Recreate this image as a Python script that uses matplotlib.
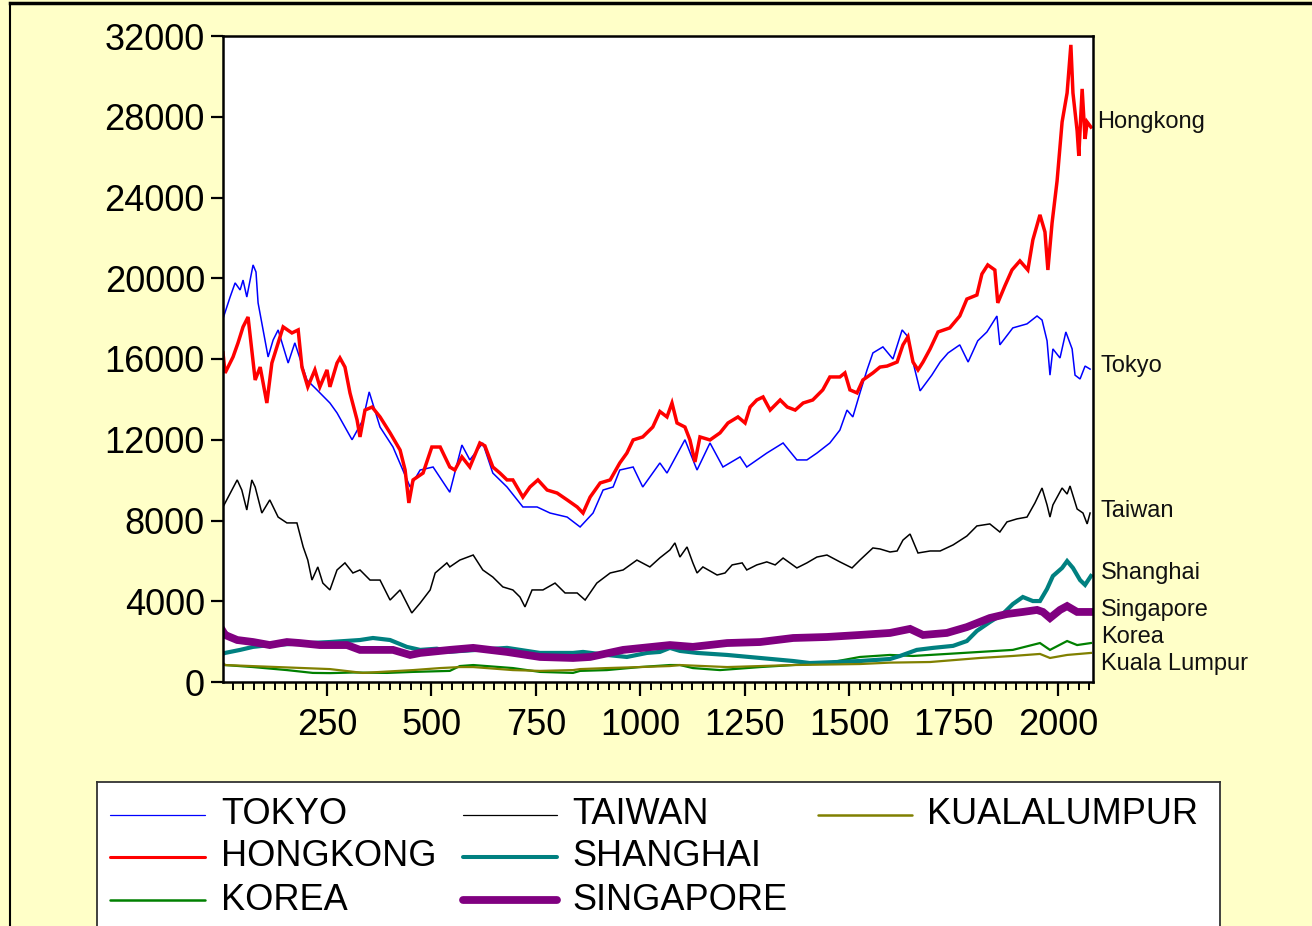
import numpy as np
import matplotlib
matplotlib.use("Agg")
import matplotlib.pyplot as plt
import matplotlib.ticker as ticker
import matplotlib.lines as mlines

plt.rcParams['font.family'] = ['Liberation Sans', 'DejaVu Sans']

tokyo = [(1, 18000), (18, 19070), (30, 19770), (42, 19420), (49, 19910), (58, 19070), (73, 20660),
         (80, 20310), (85, 18780), (97, 17440), (109, 16100), (121, 16940), (133, 17440), (157, 15800),
         (173, 16800), (202, 14960), (226, 14470), (257, 13820), (274, 13330), (310, 12000), (336, 12980),
         (351, 14370), (377, 12630), (408, 11640), (449, 9660), (473, 10500), (504, 10650), (544, 9400),
         (573, 11740), (592, 11000), (623, 11840), (647, 10350), (681, 9660), (719, 8670), (753, 8670),
         (784, 8370), (825, 8170), (856, 7680), (887, 8370), (911, 9510), (935, 9660), (951, 10500),
         (983, 10650), (1006, 9660), (1047, 10850), (1064, 10350), (1107, 12000), (1136, 10500),
         (1167, 11840), (1198, 10650), (1239, 11150), (1255, 10650), (1303, 11340), (1342, 11840),
         (1375, 11000), (1399, 11000), (1423, 11340), (1454, 11840), (1478, 12480), (1495, 13470),
         (1509, 13130), (1526, 14320), (1543, 15460), (1557, 16300), (1581, 16600), (1605, 16000),
         (1627, 17440), (1641, 17100), (1653, 15850), (1670, 14420), (1698, 15200), (1718, 15850),
         (1737, 16300), (1765, 16700), (1785, 15850), (1808, 16900), (1830, 17340), (1854, 18130),
         (1861, 16700), (1892, 17540), (1926, 17740), (1950, 18130), (1962, 17930), (1974, 16900),
         (1981, 15200), (1988, 16500), (2005, 16050), (2019, 17340), (2034, 16500), (2041, 15200),
         (2053, 15010), (2065, 15650), (2077, 15500)]

hongkong = [(1, 16300), (6, 15310), (25, 16100), (37, 16800), (49, 17590), (61, 18080), (70, 16450),
            (78, 14960), (90, 15600), (106, 13820), (118, 15800), (133, 16800), (145, 17590), (166, 17290),
            (181, 17440), (190, 15600), (204, 14620), (221, 15460), (233, 14620), (250, 15460), (257, 14620),
            (274, 15800), (281, 16050), (293, 15600), (305, 14320), (322, 12980), (329, 12140), (341, 13470),
            (358, 13620), (377, 13130), (401, 12340), (425, 11490), (437, 10500), (446, 8870), (456, 10010),
            (480, 10350), (501, 11640), (521, 11640), (544, 10650), (556, 10500), (573, 11150), (592, 10650),
            (616, 11840), (628, 11700), (647, 10650), (664, 10350), (681, 10010), (695, 10010), (719, 9160),
            (736, 9660), (755, 10010), (777, 9510), (801, 9360), (825, 9020), (849, 8670), (863, 8370),
            (880, 9160), (904, 9860), (928, 10010), (951, 10850), (968, 11340), (983, 11990), (1006, 12140),
            (1030, 12630), (1047, 13400), (1064, 13130), (1076, 13820), (1088, 12830), (1107, 12630),
            (1119, 11990), (1131, 10900), (1143, 12140), (1167, 11990), (1191, 12340), (1210, 12830),
            (1234, 13130), (1251, 12830), (1263, 13620), (1279, 13970), (1294, 14120), (1311, 13470),
            (1335, 13970), (1352, 13620), (1371, 13470), (1390, 13820), (1413, 13970), (1437, 14470),
            (1454, 15110), (1478, 15110), (1490, 15310), (1502, 14470), (1519, 14320), (1533, 14960),
            (1557, 15310), (1574, 15600), (1591, 15650), (1615, 15850), (1629, 16700), (1641, 17100),
            (1653, 15850), (1665, 15460), (1677, 15850), (1694, 16500), (1713, 17340), (1741, 17540),
            (1765, 18130), (1782, 18970), (1806, 19170), (1818, 20210), (1832, 20660), (1849, 20410),
            (1856, 18780), (1873, 19620), (1890, 20410), (1909, 20860), (1928, 20410), (1940, 21900),
            (1957, 23140), (1969, 22290), (1976, 20410), (1986, 22740), (1998, 24820), (2010, 27740),
            (2022, 29180), (2031, 31560), (2036, 29180), (2046, 27300), (2050, 26060), (2058, 29380),
            (2065, 26900), (2070, 27740), (2079, 27490)]

korea = [(1, 900), (6, 840), (73, 740), (154, 590), (216, 450), (257, 440), (312, 470), (394, 450),
         (456, 500), (544, 550), (568, 790), (600, 840), (695, 690), (760, 500), (839, 450), (856, 550),
         (920, 590), (999, 740), (1071, 840), (1095, 840), (1126, 690), (1191, 590), (1287, 740),
         (1366, 840), (1447, 940), (1526, 1240), (1598, 1340), (1653, 1290), (1734, 1390), (1813, 1490),
         (1892, 1590), (1957, 1930), (1981, 1590), (2022, 2030), (2046, 1830), (2079, 1930)]

taiwan = [(1, 8670), (35, 10010), (46, 9510), (58, 8520), (70, 10010), (78, 9660), (94, 8370), (113, 9020),
          (133, 8170), (154, 7880), (178, 7880), (193, 6690), (204, 6040), (214, 5050), (228, 5700),
          (240, 4900), (257, 4560), (274, 5550), (293, 5900), (312, 5400), (329, 5550), (353, 5050),
          (377, 5050), (401, 4060), (425, 4560), (453, 3420), (473, 3910), (497, 4560), (509, 5400),
          (537, 5900), (544, 5700), (568, 6040), (600, 6290), (623, 5550), (647, 5200), (671, 4710),
          (695, 4560), (712, 4210), (724, 3720), (741, 4560), (767, 4560), (796, 4900), (820, 4410),
          (849, 4410), (868, 4060), (896, 4900), (928, 5400), (959, 5550), (992, 6040), (1023, 5700),
          (1047, 6150), (1071, 6540), (1083, 6890), (1095, 6190), (1112, 6690), (1126, 5900), (1136, 5400),
          (1150, 5700), (1184, 5300), (1203, 5400), (1220, 5800), (1244, 5900), (1255, 5550), (1279, 5800),
          (1303, 5950), (1323, 5800), (1342, 6140), (1375, 5650), (1399, 5900), (1423, 6190), (1447, 6290),
          (1478, 5950), (1507, 5650), (1526, 6040), (1557, 6640), (1574, 6590), (1598, 6440), (1615, 6490),
          (1629, 7030), (1646, 7330), (1665, 6390), (1694, 6490), (1718, 6490), (1749, 6790), (1782, 7230),
          (1806, 7730), (1837, 7830), (1861, 7430), (1878, 7930), (1902, 8080), (1926, 8170), (1945, 8870),
          (1962, 9610), (1974, 8770), (1981, 8170), (1988, 8770), (2010, 9610), (2022, 9310), (2029, 9710),
          (2046, 8570), (2060, 8370), (2070, 7830), (2077, 8370)]

shanghai = [(1, 1400), (6, 1440), (42, 1590), (73, 1740), (113, 1830), (257, 1980), (329, 2080), (360, 2180),
            (401, 2080), (441, 1740), (473, 1590), (513, 1650), (544, 1500), (681, 1690), (760, 1440),
            (839, 1440), (863, 1490), (920, 1340), (968, 1240), (1016, 1440), (1047, 1490), (1071, 1690),
            (1095, 1540), (1136, 1440), (1208, 1340), (1287, 1190), (1366, 1040), (1406, 940), (1471, 990),
            (1526, 1040), (1598, 1140), (1622, 1290), (1662, 1590), (1701, 1690), (1749, 1790), (1782, 2030),
            (1806, 2530), (1837, 2970), (1868, 3370), (1892, 3860), (1916, 4210), (1940, 4010), (1957, 4010),
            (1974, 4610), (1988, 5250), (2010, 5650), (2022, 5990), (2036, 5650), (2053, 5050), (2065, 4810),
            (2079, 5250)]

singapore = [(1, 2500), (6, 2330), (35, 2080), (73, 1980), (113, 1830), (154, 1980), (185, 1930), (233, 1830),
             (298, 1830), (329, 1590), (408, 1590), (449, 1340), (473, 1440), (544, 1590), (600, 1690),
             (681, 1490), (760, 1240), (839, 1190), (880, 1240), (959, 1590), (1071, 1830), (1126, 1740),
             (1208, 1930), (1287, 1980), (1366, 2180), (1447, 2230), (1526, 2330), (1598, 2430), (1646, 2630),
             (1677, 2330), (1734, 2430), (1782, 2720), (1837, 3170), (1878, 3370), (1916, 3470), (1950, 3570),
             (1964, 3470), (1981, 3170), (2005, 3570), (2022, 3760), (2046, 3470), (2079, 3470)]

kualalumpur = [(1, 950), (6, 840), (257, 640), (336, 450), (456, 590), (521, 690), (568, 740), (600, 740),
               (695, 590), (760, 550), (839, 590), (856, 640), (920, 690), (999, 740), (1071, 790), (1095, 840),
               (1208, 740), (1366, 840), (1526, 890), (1598, 960), (1694, 990), (1813, 1190), (1892, 1290),
               (1957, 1390), (1981, 1190), (2022, 1340), (2079, 1440)]

names = ["TOKYO", "HONGKONG", "KOREA", "TAIWAN", "SHANGHAI", "SINGAPORE", "KUALALUMPUR"]
series = [tokyo, hongkong, korea, taiwan, shanghai, singapore, kualalumpur]
colors = ['#0000ff', '#ff0000', '#008000', '#000000', '#008080', '#800080', '#808000']
widths = [1.1, 2.5, 1.6, 1.1, 3.0, 5.6, 1.6]

end_labels = ["Hongkong", "Tokyo", "Taiwan", "Shanghai", "Singapore", "Korea", "Kuala Lumpur"]
end_label_y = [27740, 15650, 8470, 5400, 3570, 2230, 900]

yticks = [0, 4000, 8000, 12000, 16000, 20000, 24000, 28000, 32000]
xticks = [250, 500, 750, 1000, 1250, 1500, 1750, 2000]

W, H = 1312, 926
fig = plt.figure(figsize=(W / 100, H / 100), dpi=100)
fig.patch.set_facecolor('#ffffc8')

# outer frame lines (left and top edges of the panel)
fig.add_artist(mlines.Line2D([10 / W, 10 / W], [0, 1 - 3 / H], color='black', lw=1.5, transform=fig.transFigure))
fig.add_artist(mlines.Line2D([10 / W, 1], [1 - 3 / H, 1 - 3 / H], color='black', lw=2.5, transform=fig.transFigure))

ax = fig.add_axes([223 / W, 1 - 682 / H, 870 / W, 646 / H])
ax.set_facecolor('white')
for s, c, lw in zip(series, colors, widths):
    xs, ys = zip(*s)
    ax.plot(xs, ys, color=c, lw=lw, solid_joinstyle='miter')

ax.set_xlim(1, 2084)
ax.set_ylim(0, 32000)
ax.set_yticks(yticks)
ax.set_xticks(xticks)
ax.xaxis.set_minor_locator(ticker.MultipleLocator(25))
ax.tick_params(axis='both', which='major', direction='out', length=9, width=1.6, labelsize=26, pad=4)
ax.tick_params(axis='x', which='minor', direction='out', length=6, width=1.4)
ax.tick_params(axis='x', which='major', length=10, pad=9)
for sp in ax.spines.values():
    sp.set_linewidth(1.8)

for lab, yv in zip(end_labels, end_label_y):
    ax.text(1.005 if lab == "Hongkong" else 1.009, yv, lab, transform=ax.get_yaxis_transform(),
            fontsize=17, va='center', ha='left', color='#111111')

# legend box
lax = fig.add_axes([97 / W, -10 / H, 1123 / W, (926 - 782 + 10) / H])
lax.set_xlim(0, 1123)
lax.set_ylim(154, 0)
lax.set_xticks([])
lax.set_yticks([])
lax.set_facecolor('white')
for sp in lax.spines.values():
    sp.set_linewidth(1.3)
    sp.set_color('#333333')

col_line = [(13, 108), (366, 460), (721, 815)]
col_text = [124, 475, 830]
row_y = [33, 75, 118]
leg_widths = [0.9, 2.2, 1.8, 0.9, 2.9, 5.6, 1.8]
for i, (nm, c, lw) in enumerate(zip(names, colors, leg_widths)):
    col, row = divmod(i, 3)
    lax.plot(col_line[col], [row_y[row], row_y[row]], color=c, lw=lw, solid_capstyle='round')
    lax.text(col_text[col], row_y[row], nm, fontsize=26, va='center', ha='left')

fig.savefig('out.png', dpi=100, facecolor=fig.get_facecolor())
